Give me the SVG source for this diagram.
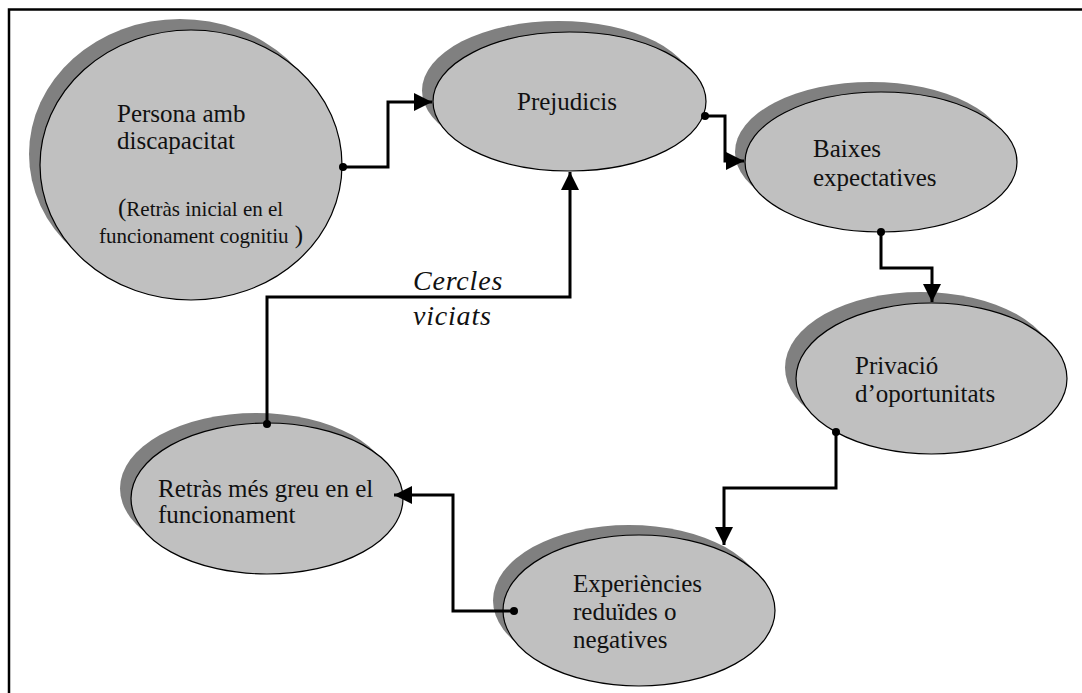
<svg xmlns="http://www.w3.org/2000/svg" width="1082" height="693" viewBox="0 0 1082 693">
<style>
.sh{fill:#808080;stroke:none}
.nd{fill:#C0C0C0;stroke:#000;stroke-width:1.2}
.t{font-family:"Liberation Serif","Times New Roman",serif;font-size:25px;fill:#111}
.s{font-size:21px}
.it{font-family:"Liberation Serif","Times New Roman",serif;font-style:italic;font-size:28px;letter-spacing:0.8px;fill:#111}
.c{fill:none;stroke:#000;stroke-width:3}
.dot{fill:#000}
</style>
<defs>
<marker id="ah" viewBox="0 0 10 10" refX="10" refY="5" markerWidth="6" markerHeight="6" markerUnits="strokeWidth" orient="auto">
<path d="M0,0 L10,5 L0,10 z" fill="#000"/>
</marker>
</defs>
<rect width="1082" height="693" fill="#fff"/>
<path d="M9,693 V9.5 H1082" fill="none" stroke="#000" stroke-width="2.5"/>

<g id="n-persona">
<ellipse class="sh" cx="180" cy="154" rx="151" ry="135"/>
<ellipse class="nd" cx="191" cy="165" rx="151" ry="135"/>
<text class="t" x="117" y="122">Persona amb</text>
<text class="t" x="117" y="149">discapacitat</text>
<text class="t" x="118" y="216">(<tspan class="s">Retràs inicial en el</tspan></text>
<text class="t" x="99" y="243"><tspan class="s">funcionament cognitiu</tspan> )</text>
</g>

<g id="n-prejudicis">
<ellipse class="sh" cx="558.5" cy="90.5" rx="136.5" ry="69.5"/>
<ellipse class="nd" cx="569.5" cy="101.5" rx="136.5" ry="69.5"/>
<text class="t" x="517" y="110">Prejudicis</text>
</g>

<g id="n-baixes">
<ellipse class="sh" cx="871" cy="152" rx="136" ry="70"/>
<ellipse class="nd" cx="881" cy="162" rx="136" ry="70"/>
<text class="t" x="813" y="157">Baixes</text>
<text class="t" x="813" y="186">expectatives</text>
</g>

<g id="n-privacio">
<ellipse class="sh" cx="920.5" cy="367.5" rx="135.5" ry="75.5"/>
<ellipse class="nd" cx="931.5" cy="378.5" rx="135.5" ry="75.5"/>
<text class="t" x="855" y="374">Privació</text>
<text class="t" x="855" y="402">d’oportunitats</text>
</g>

<g id="n-experiencies">
<ellipse class="sh" cx="629" cy="600.5" rx="136" ry="75.5"/>
<ellipse class="nd" cx="639" cy="610.5" rx="136" ry="75.5"/>
<text class="t" x="573" y="592">Experiències</text>
<text class="t" x="573" y="620">reduïdes o</text>
<text class="t" x="573" y="648">negatives</text>
</g>

<g id="n-retras">
<ellipse class="sh" cx="256" cy="488.5" rx="136" ry="75.5"/>
<ellipse class="nd" cx="267" cy="498.5" rx="136" ry="75.5"/>
<text class="t" x="158" y="497">Retràs més greu en el</text>
<text class="t" x="158" y="523">funcionament</text>
</g>

<g id="connectors">
<path class="c" d="M343,167 H388 V102 H432" marker-end="url(#ah)"/>
<circle class="dot" cx="343" cy="167" r="4"/>
<path class="c" d="M705,116 H725 V161 H744" marker-end="url(#ah)"/>
<circle class="dot" cx="705" cy="116" r="4"/>
<path class="c" d="M881,232 V268 H932 V302" marker-end="url(#ah)"/>
<circle class="dot" cx="881" cy="232" r="4"/>
<path class="c" d="M836,432 V488 H724 V545" marker-end="url(#ah)"/>
<circle class="dot" cx="836" cy="432" r="4"/>
<path class="c" d="M514,611 H453 V495 H394" marker-end="url(#ah)"/>
<circle class="dot" cx="514" cy="611" r="4"/>
<path class="c" d="M267,424 V297 H570 V172" marker-end="url(#ah)"/>
<circle class="dot" cx="267" cy="424" r="4"/>
<text class="it" x="413" y="290">Cercles</text>
<text class="it" x="413" y="325">viciats</text>
</g>
</svg>
